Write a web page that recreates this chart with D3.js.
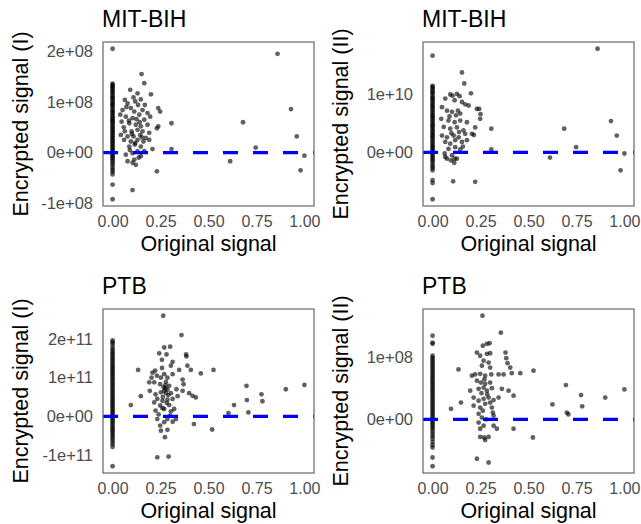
<!DOCTYPE html>
<html>
<head>
<meta charset="utf-8">
<script src="https://cdn.jsdelivr.net/npm/d3@7"></script>
<style>
  body { margin: 0; background: #fff; }
  svg { display: block; font-family: "Liberation Sans", Arial, sans-serif; }
</style>
</head>
<body>
<svg id="chart" width="641" height="524"></svg>
<script>
// ---- data (y values in units of the panel's "unit") ----
var xTicks = [0, 0.25, 0.5, 0.75, 1];
var xTickLabels = ["0.00", "0.25", "0.50", "0.75", "1.00"];

// MIT-BIH, encrypted signal (I), unit 1e8
var mitI_col = [2.05, 1.36, 1.34, 1.31, 1.28, 1.26, 1.22, 1.2, 1.17, 1.13, 1.1, 1.08, 1.05, 1.01, 0.98, 0.95, 0.93, 0.9,
  0.86, 0.83, 0.8, 0.78, 0.74, 0.71, 0.68, 0.65, 0.62, 0.6, 0.56, 0.53, 0.5, 0.47, 0.44, 0.41, 0.38, 0.35, 0.32, 0.29,
  0.26, 0.23, 0.2, 0.17, 0.14, 0.11, 0.08, 0.05, 0.02, -0.01, -0.04, -0.07, -0.1, -0.13, -0.17, -0.21, -0.25, -0.3,
  -0.34, -0.38, -0.43, -0.63, -0.92];
var mitI_pts = [[0.151,1.55],[0.165,1.37],[0.092,1.24],[0.130,1.17],[0.109,1.09],[0.147,1.05],[0.200,1.15],[0.064,1.04],
  [0.078,0.97],[0.118,1.01],[0.133,0.94],[0.168,0.94],[0.052,0.84],[0.095,0.88],[0.113,0.81],[0.156,0.84],[0.182,0.78],
  [0.238,0.88],[0.248,0.81],[0.040,0.75],[0.069,0.71],[0.104,0.68],[0.139,0.75],[0.165,0.65],[0.196,0.71],[0.047,0.61],
  [0.087,0.58],[0.121,0.55],[0.147,0.52],[0.182,0.55],[0.231,0.48],[0.238,0.52],[0.307,0.58],[0.064,0.42],[0.099,0.42],
  [0.130,0.45],[0.156,0.42],[0.191,0.39],[0.043,0.35],[0.078,0.32],[0.109,0.32],[0.144,0.35],[0.173,0.29],[0.060,0.25],
  [0.095,0.22],[0.130,0.25],[0.161,0.22],[0.191,0.25],[0.087,0.12],[0.116,0.16],[0.147,0.12],[0.208,0.07],[0.307,0.07],
  [0.069,-0.04],[0.104,-0.01],[0.130,0.03],[0.165,0.03],[0.078,-0.17],[0.113,-0.14],[0.121,-0.24],[0.104,-0.20],
  [0.147,-0.07],[0.231,-0.37],[0.104,-0.74],[0.072,0.90],[0.085,0.63],[0.125,0.66],[0.141,0.60],[0.058,0.50],
  [0.101,0.37],[0.152,0.30],[0.090,0.05],[0.118,0.19],[0.136,-0.10],
  [0.613,-0.17],[0.680,0.60],[0.746,0.10],[0.860,1.95],[0.930,0.86],[0.960,0.32],[1.000,-0.06],[0.980,-0.35]];
var mitI_yTicks = [-1, 0, 1, 2];
var mitI_yLabels = ["-1e+08", "0e+00", "1e+08", "2e+08"];

// MIT-BIH, encrypted signal (II), unit 1e10
var mitII_col = [1.67, 1.15, 1.13, 1.1, 1.07, 1.04, 1.02, 0.98, 0.95, 0.93, 0.9, 0.87, 0.84, 0.81, 0.79, 0.76, 0.73,
  0.7, 0.67, 0.64, 0.62, 0.59, 0.56, 0.53, 0.5, 0.47, 0.45, 0.42, 0.39, 0.36, 0.33, 0.3, 0.28, 0.25, 0.22, 0.19, 0.16,
  0.13, 0.1, 0.08, 0.05, 0.02, -0.01, -0.04, -0.07, -0.1, -0.13, -0.16, -0.2, -0.24, -0.27, -0.31, -0.48, -0.53, -0.81];
var mitII_pts = [[0.153,1.38],[0.165,1.19],[0.2,1.02],[0.092,1.0],[0.104,0.98],[0.127,1.01],[0.141,0.97],[0.066,0.93],
  [0.115,0.9],[0.153,0.87],[0.17,0.83],[0.188,0.81],[0.231,0.75],[0.243,0.75],[0.049,0.78],[0.075,0.72],[0.101,0.7],
  [0.132,0.72],[0.144,0.67],[0.045,0.58],[0.083,0.55],[0.115,0.52],[0.144,0.55],[0.179,0.52],[0.248,0.58],[0.058,0.44],
  [0.092,0.41],[0.127,0.43],[0.161,0.38],[0.222,0.43],[0.306,0.41],[0.049,0.29],[0.075,0.26],[0.11,0.29],[0.136,0.26],
  [0.17,0.32],[0.205,0.32],[0.066,0.18],[0.092,0.15],[0.118,0.21],[0.153,0.18],[0.179,0.21],[0.083,0.06],[0.118,0.09],
  [0.144,0.05],[0.306,0.05],[0.063,-0.02],[0.101,-0.05],[0.115,-0.11],[0.075,-0.11],[0.066,-0.08],[0.096,-0.14],
  [0.113,-0.18],[0.127,-0.11],[0.107,-0.5],[0.222,-0.51],[0.088,0.62],[0.122,0.64],[0.138,0.35],[0.098,0.33],
  [0.158,0.1],[0.215,0.3],[0.25,0.66],
  [0.612,-0.09],[0.686,0.41],[0.748,0.09],[0.86,1.79],[0.93,0.54],[0.96,0.29],[1.0,-0.02],[0.98,-0.31]];
var mitII_yTicks = [0, 1];
var mitII_yLabels = ["0e+00", "1e+10"];

// PTB, encrypted signal (I), unit 1e11
var ptbI_col = [1.96, 1.92, 1.87, 1.8, 1.74, 1.69, 1.64, 1.6, 1.55, 1.5, 1.46, 1.41, 1.37, 1.32, 1.27, 1.23, 1.18, 1.14,
  1.09, 1.05, 1.0, 0.96, 0.91, 0.86, 0.82, 0.77, 0.73, 0.68, 0.64, 0.59, 0.55, 0.5, 0.46, 0.41, 0.37, 0.32, 0.28, 0.23,
  0.19, 0.14, 0.1, 0.05, 0.01, -0.04, -0.08, -0.13, -0.17, -0.22, -0.27, -0.31, -0.36, -0.4, -0.45, -0.5, -0.55, -0.6,
  -0.66, -0.72, -0.79, -1.29];
var ptbI_pts = [[0.264,2.6],[0.359,2.1],[0.269,1.78],[0.3,1.8],[0.243,1.63],[0.281,1.6],[0.383,1.6],[0.385,1.55],
  [0.257,1.46],[0.313,1.41],[0.304,1.31],[0.133,1.2],[0.39,1.31],[0.408,1.2],[0.347,1.2],[0.46,1.11],[0.526,1.2],
  [0.208,1.13],[0.231,1.05],[0.203,1.0],[0.252,1.0],[0.269,1.09],[0.286,1.0],[0.313,1.09],[0.217,0.88],[0.248,0.83],
  [0.278,0.89],[0.295,0.79],[0.266,0.75],[0.365,0.95],[0.37,0.83],[0.191,0.88],[0.269,0.66],[0.286,0.69],[0.278,0.6],
  [0.252,0.62],[0.304,0.6],[0.333,0.7],[0.365,0.66],[0.194,0.66],[0.399,0.6],[0.417,0.53],[0.434,0.49],[0.147,0.52],
  [0.095,0.29],[0.224,0.57],[0.233,0.45],[0.26,0.4],[0.286,0.43],[0.313,0.45],[0.339,0.52],[0.217,0.36],[0.248,0.28],
  [0.269,0.19],[0.295,0.29],[0.321,0.19],[0.224,0.15],[0.26,0.21],[0.304,0.13],[0.233,-0.07],[0.269,-0.15],
  [0.286,-0.07],[0.248,-0.24],[0.313,-0.14],[0.33,-0.07],[0.252,-0.37],[0.286,-0.35],[0.273,-0.54],[0.233,-1.06],
  [0.292,-1.04],[0.275,0.72],[0.29,0.55],[0.262,0.5],[0.282,0.35],[0.24,0.05],[0.3,0.02],[0.258,1.25],[0.222,1.18],
  [0.275,0.8],
  [0.424,-0.2],[0.519,-0.34],[0.604,0.08],[0.633,0.29],[0.698,0.79],[0.7,0.42],[0.708,0.1],[0.776,0.57],[0.781,0.39],
  [0.903,0.7],[1.0,0.81]];
var ptbI_yTicks = [-1, 0, 1, 2];
var ptbI_yLabels = ["-1e+11", "0e+00", "1e+11", "2e+11"];

// PTB, encrypted signal (II), unit 1e8
var ptbII_col = [1.34, 1.23, 1.21, 1.02, 0.99, 0.96, 0.93, 0.9, 0.87, 0.84, 0.81, 0.78, 0.75, 0.72, 0.69, 0.66, 0.63,
  0.6, 0.57, 0.54, 0.51, 0.48, 0.45, 0.42, 0.39, 0.36, 0.33, 0.3, 0.27, 0.24, 0.21, 0.18, 0.15, 0.12, 0.09, 0.06, 0.03,
  0.0, -0.03, -0.06, -0.09, -0.12, -0.15, -0.19, -0.23, -0.27, -0.31, -0.36, -0.41, -0.45, -0.61, -0.75];
var ptbII_pts = [[0.26,1.66],[0.356,1.39],[0.262,1.18],[0.283,1.21],[0.297,1.22],[0.231,1.07],[0.248,1.02],[0.283,1.05],
  [0.3,1.06],[0.38,1.07],[0.384,0.98],[0.391,0.9],[0.405,0.83],[0.266,0.94],[0.292,0.91],[0.257,0.86],[0.3,0.83],
  [0.135,0.8],[0.526,0.78],[0.457,0.74],[0.205,0.7],[0.222,0.72],[0.248,0.73],[0.274,0.7],[0.306,0.72],[0.344,0.72],
  [0.37,0.72],[0.413,0.74],[0.231,0.62],[0.252,0.59],[0.274,0.57],[0.3,0.59],[0.196,0.46],[0.24,0.49],[0.266,0.51],
  [0.283,0.46],[0.309,0.5],[0.361,0.49],[0.396,0.46],[0.422,0.38],[0.148,0.27],[0.096,0.17],[0.214,0.35],[0.24,0.3],
  [0.266,0.33],[0.292,0.35],[0.318,0.31],[0.344,0.35],[0.214,0.22],[0.248,0.19],[0.274,0.25],[0.309,0.19],[0.314,0.11],
  [0.24,0.09],[0.257,0.03],[0.318,0.06],[0.24,-0.05],[0.266,-0.1],[0.248,-0.15],[0.318,-0.1],[0.335,-0.15],
  [0.422,-0.15],[0.523,-0.29],[0.248,-0.28],[0.269,-0.29],[0.292,-0.28],[0.274,-0.33],[0.231,-0.63],[0.292,-0.69],
  [0.27,0.64],[0.285,0.4],[0.255,0.42],[0.3,0.27],[0.262,0.14],[0.28,0.0],
  [0.625,0.24],[0.695,0.55],[0.7,0.11],[0.708,0.08],[0.774,0.39],[0.78,0.21],[0.9,0.35],[1.0,0.48]];
var ptbII_yTicks = [0, 1];
var ptbII_yLabels = ["0e+00", "1e+08"];

var titles = ["MIT-BIH", "MIT-BIH", "PTB", "PTB"];
var yTitles = ["Encrypted signal (I)", "Encrypted signal (II)", "Encrypted signal (I)", "Encrypted signal (II)"];

// ---- layout ----
var svg = d3.select("#chart");
var pw = 211, ph = 164;
var panels = [
  {left: 103, top: 42, col: mitI_col, pts: mitI_pts, ticks: mitI_yTicks, labels: mitI_yLabels},
  {left: 423, top: 42, col: mitII_col, pts: mitII_pts, ticks: mitII_yTicks, labels: mitII_yLabels},
  {left: 103, top: 309, col: ptbI_col, pts: ptbI_pts, ticks: ptbI_yTicks, labels: ptbI_yLabels},
  {left: 423, top: 309, col: ptbII_col, pts: ptbII_pts, ticks: ptbII_yTicks, labels: ptbII_yLabels}
];

function padded(ext, f) {
  var s = ext[1] - ext[0];
  return [ext[0] - s * f, ext[1] + s * f];
}

panels.forEach(function(p, i) {
  var data = p.col.map(function(v) { return [0, v]; }).concat(p.pts);

  var x = d3.scaleLinear()
    .domain(padded(d3.extent(data, function(d) { return d[0]; }), 0.05))
    .range([0, pw]);
  var y = d3.scaleLinear()
    .domain(padded(d3.extent(data, function(d) { return d[1]; }), 0.045))
    .range([ph, 0]);

  var g = svg.append("g")
    .attr("transform", "translate(" + p.left + "," + p.top + ")");

  // title
  g.append("text")
    .attr("x", -1)
    .attr("y", -15)
    .attr("font-size", 23)
    .attr("fill", "#000")
    .text(titles[i]);

  // x axis labels
  var xa = g.append("g")
    .attr("transform", "translate(0," + ph + ")")
    .call(d3.axisBottom(x).tickValues(xTicks).tickSize(0).tickPadding(10)
      .tickFormat(function(d, j) { return xTickLabels[j]; }));
  xa.select(".domain").remove();
  xa.selectAll("text")
    .attr("font-size", 16)
    .attr("font-family", "Liberation Sans, Arial, sans-serif")
    .attr("fill", "#4d4d4d");

  // y axis labels
  var ya = g.append("g")
    .call(d3.axisLeft(y).tickValues(p.ticks).tickSize(0).tickPadding(10)
      .tickFormat(function(d, j) { return p.labels[j]; }));
  ya.select(".domain").remove();
  ya.selectAll("text")
    .attr("font-size", 16.5)
    .attr("font-family", "Liberation Sans, Arial, sans-serif")
    .attr("fill", "#4d4d4d");

  // axis titles
  g.append("text")
    .attr("x", pw / 2)
    .attr("y", ph + 45)
    .attr("text-anchor", "middle")
    .attr("font-size", 21.5)
    .text("Original signal");

  g.append("text")
    .attr("transform", "translate(-75," + (ph / 2) + ") rotate(-90)")
    .attr("text-anchor", "middle")
    .attr("font-size", 21.5)
    .text(yTitles[i]);

  // points
  g.append("g").selectAll("circle")
    .data(data)
    .enter().append("circle")
    .attr("cx", function(d) { return x(d[0]); })
    .attr("cy", function(d) { return y(d[1]); })
    .attr("r", 2.4)
    .attr("fill", "#000")
    .attr("fill-opacity", 0.62);

  // dashed zero line
  g.append("line")
    .attr("x1", 0)
    .attr("x2", pw)
    .attr("y1", y(0))
    .attr("y2", y(0))
    .attr("stroke", "#0000ff")
    .attr("stroke-width", 3.2)
    .attr("stroke-dasharray", "15,15");

  // panel border
  g.append("rect")
    .attr("width", pw)
    .attr("height", ph)
    .attr("fill", "none")
    .attr("stroke", "#666")
    .attr("stroke-width", 1.2);
});
</script>
</body>
</html>
